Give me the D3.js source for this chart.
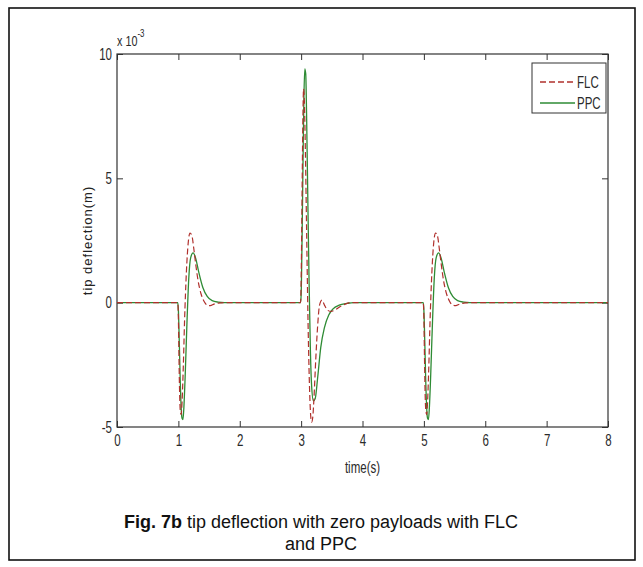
<!DOCTYPE html>
<html>
<head>
<meta charset="utf-8">
<script src="https://cdn.jsdelivr.net/npm/d3@7"></script>
<style>
  html, body { margin: 0; padding: 0; background: #fff; }
  svg { display: block; }
</style>
</head>
<body>
<svg id="chart" width="643" height="567"></svg>
<script>
// ---- data (time in s, deflection in units of 1e-3 m) ----
const flcTime = [0, 0.99, 1.00, 1.01, 1.02, 1.03, 1.045, 1.06, 1.08, 1.10, 1.13, 1.16, 1.19, 1.22, 1.25, 1.28, 1.32, 1.37, 1.42, 1.47, 1.52, 1.58, 1.65, 1.75,
                 2.99, 3.00, 3.01, 3.02, 3.03, 3.04, 3.05, 3.07, 3.09, 3.11, 3.13, 3.15, 3.17, 3.19, 3.21, 3.24, 3.27, 3.30, 3.34, 3.38, 3.43, 3.48, 3.55, 3.62, 3.70, 3.80,
                 4.99, 5.00, 5.01, 5.02, 5.03, 5.045, 5.06, 5.08, 5.10, 5.13, 5.16, 5.19, 5.22, 5.25, 5.28, 5.32, 5.37, 5.42, 5.47, 5.52, 5.58, 5.65, 5.75, 8];
const flcValues = [0, 0, -0.6, -2.2, -3.6, -4.3, -4.5, -4.0, -2.6, -0.8, 1.2, 2.4, 2.8, 2.7, 2.2, 1.6, 0.9, 0.35, 0.05, -0.1, -0.12, -0.06, -0.02, 0,
                   0, 0.8, 3.0, 5.5, 7.6, 8.6, 8.3, 6.0, 2.8, -0.4, -2.8, -4.3, -4.8, -4.6, -3.8, -2.2, -0.9, -0.1, 0.1, -0.1, -0.3, -0.35, -0.3, -0.18, -0.08, 0,
                   0, -0.6, -2.2, -3.6, -4.3, -4.5, -4.0, -2.6, -0.8, 1.2, 2.4, 2.8, 2.7, 2.2, 1.6, 0.9, 0.35, 0.05, -0.1, -0.12, -0.06, -0.02, 0, 0];

const ppcTime = [0, 0.99, 1.00, 1.015, 1.03, 1.045, 1.06, 1.075, 1.09, 1.11, 1.14, 1.17, 1.20, 1.24, 1.28, 1.33, 1.40, 1.47, 1.55, 1.65, 1.75,
                 2.99, 3.00, 3.015, 3.03, 3.045, 3.06, 3.075, 3.09, 3.11, 3.13, 3.15, 3.17, 3.20, 3.23, 3.27, 3.32, 3.38, 3.45, 3.52, 3.62, 3.75, 3.85,
                 4.99, 5.00, 5.015, 5.03, 5.045, 5.06, 5.075, 5.09, 5.11, 5.14, 5.17, 5.20, 5.24, 5.28, 5.33, 5.40, 5.47, 5.55, 5.65, 5.75, 8];
const ppcValues = [0, 0, -0.3, -1.6, -3.1, -4.2, -4.65, -4.7, -4.2, -3.0, -0.8, 1.0, 1.8, 2.0, 1.8, 1.25, 0.6, 0.25, 0.08, 0.02, 0,
                   0, 0.3, 2.5, 5.5, 8.2, 9.4, 9.2, 7.4, 4.0, 0.8, -1.8, -3.3, -3.95, -3.85, -3.0, -1.8, -1.0, -0.5, -0.25, -0.1, -0.03, 0,
                   0, -0.3, -1.6, -3.1, -4.2, -4.65, -4.7, -4.2, -3.0, -0.8, 1.0, 1.8, 2.0, 1.8, 1.25, 0.6, 0.25, 0.08, 0.02, 0, 0];

const seriesNames = ["FLC", "PPC"];
const seriesColors = ["#b0302c", "#2e8b34"];
const xTicks = [0, 1, 2, 3, 4, 5, 6, 7, 8];
const yTicks = [-5, 0, 5, 10];
const yTickLabels = ["-5", "0", "5", "10"];
const xLabel = "time(s)";
const yLabel = "tip deflection(m)";
const captionBold = "Fig. 7b";
const captionRest = " tip deflection with zero payloads with FLC";
const captionLine2 = "and PPC";

// ---- layout ----
const svg = d3.select("#chart");
const plot = { left: 117, right: 608, top: 54, bottom: 427 };
const tickFont = "'Liberation Sans', Arial, sans-serif";
const SX = 0.72; // horizontal squeeze to mimic the narrow MATLAB tick font

svg.append("rect").attr("x", 0).attr("y", 0).attr("width", 643).attr("height", 567).attr("fill", "#fff");
// outer figure frame
svg.append("rect").attr("x", 9).attr("y", 8).attr("width", 626).attr("height", 552)
  .attr("fill", "none").attr("stroke", "#111").attr("stroke-width", 1.6);

const x = d3.scaleLinear().domain([0, 8]).range([plot.left, plot.right]);
const y = d3.scaleLinear().domain([-5, 10]).range([plot.bottom, plot.top]);

function styleAxis(g, withText) {
  g.select(".domain").remove();
  g.selectAll(".tick line").attr("stroke", "#333").attr("stroke-width", 1);
  if (!withText) { g.selectAll(".tick text").remove(); return; }
  g.selectAll(".tick text")
    .attr("fill", "#2a2a2a").style("font-family", tickFont).style("font-size", "16px")
    .each(function () {
      const t = d3.select(this);
      const xx = +t.attr("x") || 0;
      t.attr("x", xx / SX).attr("transform", `scale(${SX},1)`);
    });
}

// condensed free text helper
function narrowText(px, py, size, txt, anchor) {
  return svg.append("text")
    .attr("transform", `translate(${px},${py}) scale(${SX},1)`)
    .attr("text-anchor", anchor || "start")
    .style("font-family", tickFont).style("font-size", size + "px").attr("fill", "#2a2a2a")
    .text(txt);
}

// bottom axis
svg.append("g").attr("transform", `translate(0,${plot.bottom})`)
  .call(d3.axisBottom(x).tickValues(xTicks).tickFormat(d => String(d)).tickSizeInner(-6).tickSizeOuter(0).tickPadding(8))
  .call(g => styleAxis(g, true));
// top axis
svg.append("g").attr("transform", `translate(0,${plot.top})`)
  .call(d3.axisTop(x).tickValues(xTicks).tickSizeInner(-6).tickSizeOuter(0))
  .call(g => styleAxis(g, false));
// left axis
svg.append("g").attr("transform", `translate(${plot.left},0)`)
  .call(d3.axisLeft(y).tickValues(yTicks).tickFormat((d, i) => yTickLabels[i]).tickSizeInner(-6).tickSizeOuter(0).tickPadding(5))
  .call(g => styleAxis(g, true));
// right axis
svg.append("g").attr("transform", `translate(${plot.right},0)`)
  .call(d3.axisRight(y).tickValues(yTicks).tickSizeInner(-6).tickSizeOuter(0))
  .call(g => styleAxis(g, false));

// plot box
svg.append("rect").attr("x", plot.left).attr("y", plot.top)
  .attr("width", plot.right - plot.left).attr("height", plot.bottom - plot.top)
  .attr("fill", "none").attr("stroke", "#333").attr("stroke-width", 1.2);

// exponent label
const expo = narrowText(117, 46, 15, null);
expo.append("tspan").text("x 10");
expo.append("tspan").attr("dy", -9).style("font-size", "11px").text("-3");

// lines
const line = d3.line().x(d => x(d[0])).y(d => y(d[1])).curve(d3.curveMonotoneX);
const flcData = flcTime.map((t, i) => [t, flcValues[i]]);
const ppcData = ppcTime.map((t, i) => [t, ppcValues[i]]);

svg.append("path").datum(ppcData).attr("d", line)
  .attr("fill", "none").attr("stroke", seriesColors[1]).attr("stroke-width", 1.3);
svg.append("path").datum(flcData).attr("d", line)
  .attr("fill", "none").attr("stroke", seriesColors[0]).attr("stroke-width", 1.2)
  .attr("stroke-dasharray", "6,3");

// axis labels
narrowText(x(4), 473, 16, xLabel, "middle");
svg.append("text").attr("transform", `translate(92,${(plot.top + plot.bottom) / 2}) rotate(-90)`)
  .attr("text-anchor", "middle").style("font-family", "'Liberation Sans', Arial, sans-serif")
  .style("font-size", "13px").style("letter-spacing", "1px").attr("fill", "#222").text(yLabel);

// legend
const lg = svg.append("g");
lg.append("rect").attr("x", 532).attr("y", 63).attr("width", 74).attr("height", 50)
  .attr("fill", "#fff").attr("stroke", "#333").attr("stroke-width", 1);
seriesNames.forEach((name, i) => {
  const yy = 82 + i * 21;
  lg.append("line").attr("x1", 540).attr("x2", 575).attr("y1", yy).attr("y2", yy)
    .attr("stroke", seriesColors[i]).attr("stroke-width", 1.3)
    .attr("stroke-dasharray", i === 0 ? "6,3" : null);
  narrowText(577, yy + 6, 16, name, "start");
});

// caption
const cap = svg.append("text").attr("x", 321).attr("y", 528).attr("text-anchor", "middle")
  .style("font-family", "'Liberation Sans', Arial, sans-serif").style("font-size", "18px").attr("fill", "#111");
cap.append("tspan").style("font-weight", "bold").text(captionBold);
cap.append("tspan").text(captionRest);
svg.append("text").attr("x", 321).attr("y", 550).attr("text-anchor", "middle")
  .style("font-family", "'Liberation Sans', Arial, sans-serif").style("font-size", "18px").attr("fill", "#111").text(captionLine2);
</script>
</body>
</html>
